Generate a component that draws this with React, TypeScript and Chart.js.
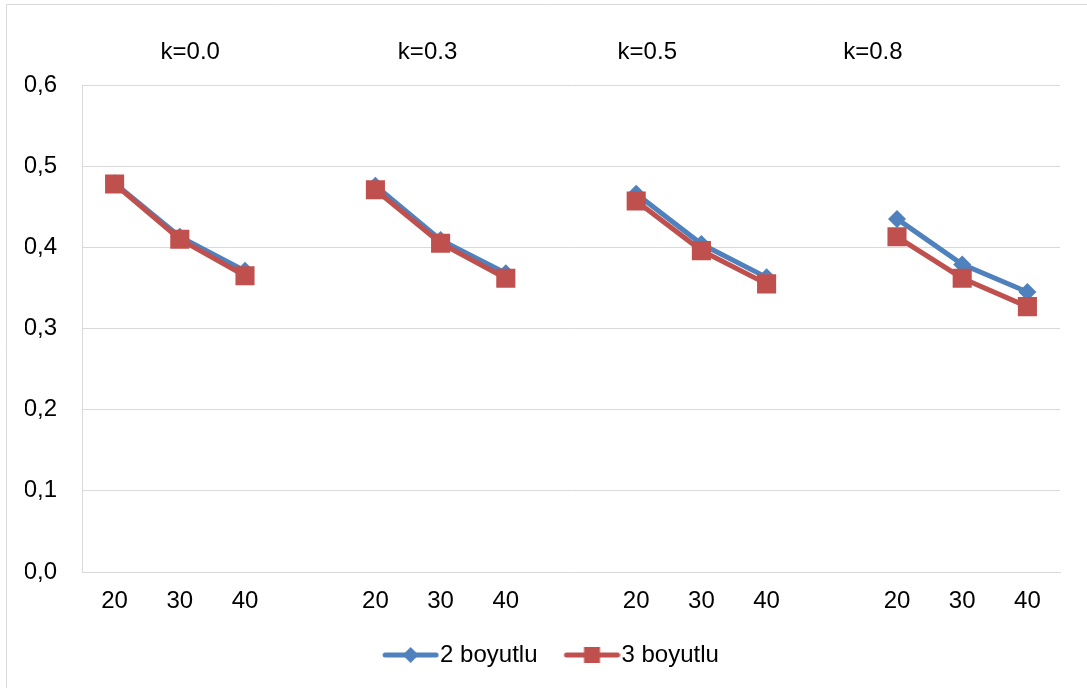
import React, { useEffect, useRef } from "react";
import { Chart, registerables } from "chart.js";

Chart.register(...registerables);

const categories = ["20", "30", "40", "", "20", "30", "40", "", "20", "30", "40", "", "20", "30", "40"];
const series2D = [0.479, 0.413, 0.371, null, 0.476, 0.409, 0.368, null, 0.466, 0.404, 0.363, null, 0.435, 0.379, 0.345];
const series3D = [0.478, 0.410, 0.365, null, 0.471, 0.405, 0.362, null, 0.457, 0.396, 0.355, null, 0.413, 0.362, 0.327];
const seriesNames = ["2 boyutlu", "3 boyutlu"];
const groupLabels = ["k=0.0", "k=0.3", "k=0.5", "k=0.8"];
const groupLabelPos = [1.16, 4.8, 8.17, 11.63];
const yTicks = [0, 0.1, 0.2, 0.3, 0.4, 0.5, 0.6];

const BLUE = "#4F81BD";
const RED = "#C0504D";
const FONT = "'Liberation Sans', Arial, sans-serif";
const FS = 24;

function legendImage(color: string, style: "diamond" | "square") {
  const c = document.createElement("canvas");
  c.width = 84;
  c.height = 22;
  const ctx = c.getContext("2d")!;
  ctx.strokeStyle = color;
  ctx.lineWidth = 5;
  ctx.lineCap = "round";
  ctx.beginPath();
  ctx.moveTo(30, 11);
  ctx.lineTo(81, 11);
  ctx.stroke();
  ctx.fillStyle = color;
  const cx = 55.5;
  if (style === "diamond") {
    ctx.beginPath();
    ctx.moveTo(cx, 3);
    ctx.lineTo(cx + 8, 11);
    ctx.lineTo(cx, 19);
    ctx.lineTo(cx - 8, 11);
    ctx.closePath();
    ctx.fill();
  } else {
    ctx.fillRect(cx - 8, 3, 16, 16);
  }
  return c;
}

const decorPlugin = {
  id: "decor",
  afterDraw(chart: any) {
    const ctx = chart.ctx;
    const x = chart.scales.x;
    ctx.save();
    ctx.strokeStyle = "#D9D9D9";
    ctx.lineWidth = 1;
    ctx.beginPath();
    ctx.moveTo(6.5, 688);
    ctx.lineTo(6.5, 4.5);
    ctx.lineTo(1087, 4.5);
    ctx.stroke();
    ctx.fillStyle = "#000";
    ctx.font = `${FS}px ${FONT}`;
    ctx.textAlign = "center";
    ctx.textBaseline = "middle";
    groupLabels.forEach((t, i) => {
      ctx.fillText(t, x.getPixelForValue(groupLabelPos[i]), 52);
    });
    ctx.restore();
  },
};

export default function App() {
  const ref = useRef<HTMLCanvasElement>(null);
  useEffect(() => {
    const imgs = [legendImage(BLUE, "diamond"), legendImage(RED, "square")];
    const chart = new Chart(ref.current!, {
      type: "line",
      data: {
        labels: categories,
        datasets: [
          {
            label: seriesNames[0],
            data: series2D,
            borderColor: BLUE,
            backgroundColor: BLUE,
            borderWidth: 5,
            pointStyle: "rectRot",
            pointRadius: 9,
            pointBorderWidth: 0,
            pointBackgroundColor: BLUE,
            order: 1,
            spanGaps: false,
          },
          {
            label: seriesNames[1],
            data: series3D,
            borderColor: RED,
            backgroundColor: RED,
            borderWidth: 5,
            pointStyle: "rect",
            pointRadius: 13.5,
            pointBorderWidth: 0,
            pointBackgroundColor: RED,
            order: 0,
            spanGaps: false,
          },
        ],
      },
      options: {
        animation: false,
        responsive: false,
        layout: { padding: { left: 25, right: 27, top: 85, bottom: 11 } },
        plugins: {
          tooltip: { enabled: false },
          legend: {
            position: "bottom",
            labels: {
              usePointStyle: true,
              pointStyleWidth: 62,
              padding: 10,
              color: "#000",
              font: { family: FONT, size: FS },
              sort: (a: any, b: any) => a.datasetIndex - b.datasetIndex,
              generateLabels: (ch: any) => {
                const items = (Chart as any).defaults.plugins.legend.labels.generateLabels(ch);
                return items.map((it: any) => ({ ...it, pointStyle: imgs[it.datasetIndex] }));
              },
            },
          },
        },
        scales: {
          x: {
            offset: true,
            grid: { display: false, drawTicks: false, offset: true },
            border: { display: true, color: "#D9D9D9", width: 1 },
            ticks: {
              color: "#000",
              font: { family: FONT, size: FS },
              padding: 15,
              maxRotation: 0,
              autoSkip: false,
            },
            afterFit: (s: any) => {
              s.height = 61;
            },
          },
          y: {
            min: 0,
            max: 0.6,
            afterBuildTicks: (s: any) => {
              s.ticks = yTicks.map((v) => ({ value: v }));
            },
            grid: { color: "#D9D9D9", lineWidth: 1, drawTicks: false },
            border: { display: true, color: "#D9D9D9", width: 1 },
            ticks: {
              color: "#000",
              font: { family: FONT, size: FS },
              padding: 25,
              callback: (v: any) => Number(v).toFixed(1).replace(".", ","),
            },
            afterFit: (s: any) => {
              s.width = 57;
            },
          },
        },
      },
      plugins: [decorPlugin],
    });
    return () => chart.destroy();
  }, []);
  return (
    <div style={{ position: "fixed", left: 0, top: 0, width: 1087, height: 688, background: "#fff" }}>
      <canvas ref={ref} width={1087} height={688} style={{ display: "block" }} />
    </div>
  );
}
